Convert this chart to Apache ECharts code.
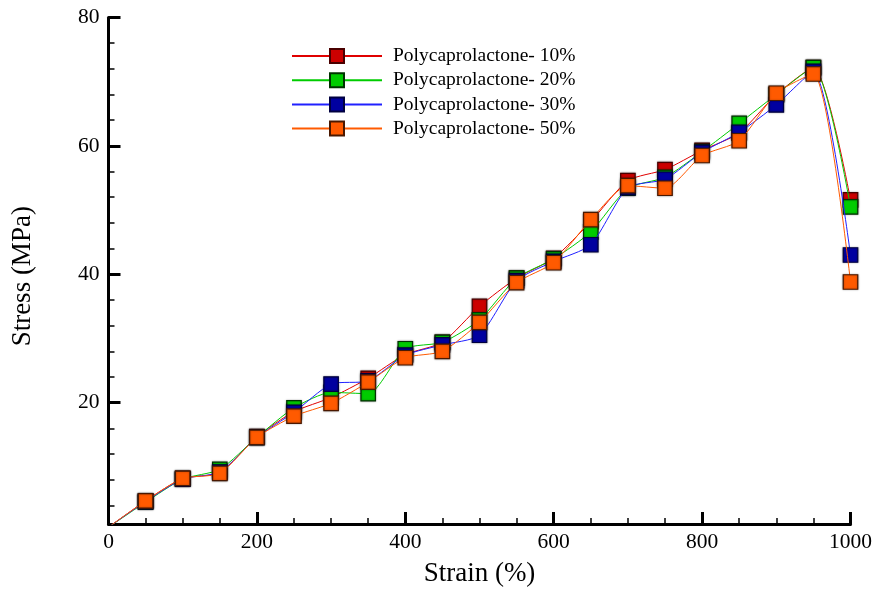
<!DOCTYPE html>
<html>
<head>
<meta charset="utf-8">
<script src="https://cdn.jsdelivr.net/npm/echarts@6/dist/echarts.min.js"></script>
<style>html,body{margin:0;padding:0;background:#fff;}#c{width:875px;height:592px;}</style>
</head>
<body>
<div id="c"></div>
<script>
const strain = [0,50,100,150,200,250,300,350,400,450,500,550,600,650,700,750,800,850,900,950,1000];
const pcl10 = [0.6,4.7,8.2,9.1,14.7,18.6,20.8,23.8,27.5,29.4,35.0,39.4,42.5,48.2,54.6,56.3,59.3,62.0,68.0,72.2,51.6];
const pcl20 = [0.6,4.5,8.1,9.6,14.6,19.2,21.6,21.4,28.4,29.4,32.9,39.4,42.4,46.6,53.4,55.1,59.1,63.5,68.0,72.2,50.5];
const pcl30 = [0.6,4.6,8.1,9.2,14.6,18.5,22.9,23.4,27.4,29.0,30.5,39.0,42.0,44.6,53.5,54.8,59.0,62.1,66.4,71.6,43.0];
const pcl50 = [0.6,4.7,8.2,9.0,14.6,17.9,19.9,23.2,27.0,28.0,32.5,38.7,41.8,48.5,53.8,53.4,58.5,60.8,68.2,71.2,38.8];
const seriesNames = ['Polycaprolactone- 10%','Polycaprolactone- 20%','Polycaprolactone- 30%','Polycaprolactone- 50%'];
const xMajor = [0,200,400,600,800,1000];
const xMinor = [50,100,150,250,300,350,450,500,550,650,700,750,850,900,950];
const yMajor = [20,40,60,80];
const yMinor = [4,8,12,16,24,28,32,36,44,48,52,56,64,68,72,76];

const lineColors = ['#e00000','#00cc00','#2020ff','#ff5a00'];
const fillColors = ['#cc0000','#00cc00','#0000a0','#ff5a00'];
const borderColors = ['#4a0000','#003300','#000040','#4a1800'];
const allData = [pcl10,pcl20,pcl30,pcl50];

const font = 'Liberation Serif, Times New Roman, serif';
const chart = echarts.init(document.getElementById('c'), null, {renderer:'canvas'});

function pts(arr){
  return arr.map((v,i)=> i===0 ? {value:[strain[i],v], symbol:'none'} : [strain[i],v]);
}

const axisLineStyle = {show:true, onZero:false, lineStyle:{color:'#000', width:3}};
chart.setOption({
  animation:false,
  backgroundColor:'#fff',
  grid:{left:108.5, right:24.5, top:17.5, bottom:66.3, containLabel:false},
  legend:{
    orient:'vertical', left:286, top:41,
    itemWidth:90, itemHeight:17.5, itemGap:4.2,
    textStyle:{fontFamily:font, fontSize:19.5, color:'#000', lineHeight:17, padding:[0,0,0,6]},
    data:seriesNames
  },
  xAxis:[{
    type:'value', min:0, max:1000, position:'bottom',
    name:'Strain (%)', nameLocation:'middle', nameGap:36,
    nameTextStyle:{fontFamily:font, fontSize:27, color:'#000'},
    axisLine:axisLineStyle,
    axisTick:{show:true, inside:true, length:12, customValues:xMajor, lineStyle:{color:'#000', width:3}},
    axisLabel:{show:true, customValues:xMajor, margin:7, fontFamily:font, fontSize:21.5, color:'#000', formatter:(v)=>String(v)},
    splitLine:{show:false}
  },{
    type:'value', min:0, max:1000, position:'bottom',
    axisLine:{show:false},
    axisTick:{show:true, inside:true, length:6, customValues:xMinor, lineStyle:{color:'#000', width:1.5}},
    axisLabel:{show:false},
    splitLine:{show:false}
  }],
  yAxis:[{
    type:'value', min:1.1, max:80, position:'left',
    name:'Stress (MPa)', nameLocation:'middle', nameGap:72, nameRotate:90,
    nameTextStyle:{fontFamily:font, fontSize:27, color:'#000', padding:[0,0,0,-11]},
    axisLine:axisLineStyle,
    axisTick:{show:true, inside:true, length:12, customValues:yMajor, lineStyle:{color:'#000', width:3}},
    axisLabel:{show:true, customValues:yMajor, margin:9, fontFamily:font, fontSize:21.5, color:'#000', formatter:(v)=>String(v)},
    splitLine:{show:false}
  },{
    type:'value', min:1.1, max:80, position:'left',
    axisLine:{show:false},
    axisTick:{show:true, inside:true, length:6, customValues:yMinor, lineStyle:{color:'#000', width:1.5}},
    axisLabel:{show:false},
    splitLine:{show:false}
  }],
  series: allData.map((d,k)=>({
    name:seriesNames[k], type:'line', xAxisIndex:0, yAxisIndex:0,
    data:pts(d), smooth:0.22, symbol:'rect', symbolSize:14.5, showAllSymbol:true,
    lineStyle:{color:lineColors[k], width:1},
    itemStyle:{color:fillColors[k], borderColor:borderColors[k], borderWidth:1.2, shadowColor:'rgba(0,0,0,0.35)', shadowBlur:2},
    emphasis:{disabled:true}, z:2+k
  }))
});
</script>
</body>
</html>
